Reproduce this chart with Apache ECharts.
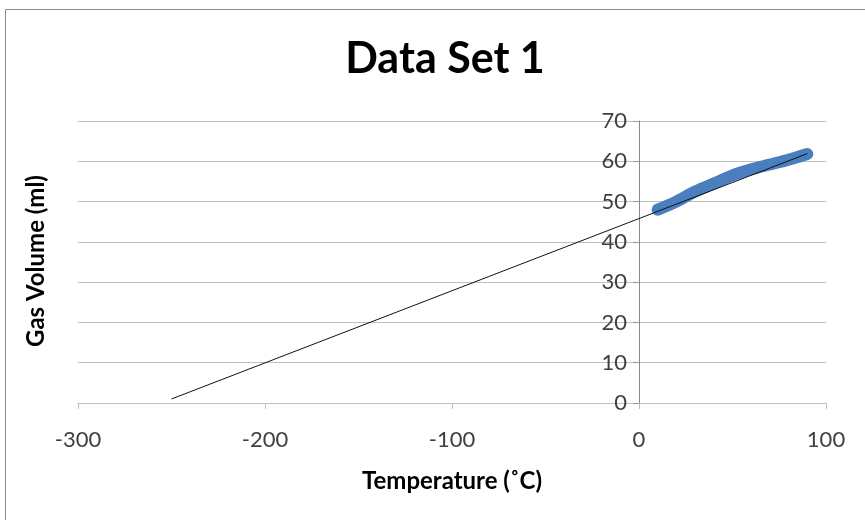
<!DOCTYPE html>
<html>
<head>
<meta charset="utf-8">
<script src="https://cdn.jsdelivr.net/npm/echarts@6/dist/echarts.min.js"></script>
<style>html,body{margin:0;padding:0;background:#fff}#c{width:865px;height:520px}</style>
</head>
<body>
<div id="c"></div>
<script>
// Data
const temperature = [10, 20, 30, 40, 50, 60, 70, 80, 90];
const gasVolume = [48, 50, 52.5, 54.5, 56.5, 58, 59.2, 60.4, 61.8];
const trendX = [-250, 90];
const trendY = [1.0, 61.9];
const xTicks = [-300, -200, -100, 0, 100];
const yTicks = [0, 10, 20, 30, 40, 50, 60, 70];

const font = 'Lato, "Open Sans", sans-serif';
const gridLeft = 78;
const chart = echarts.init(document.getElementById('c'), null, {renderer: 'canvas'});
const border = {type: 'rect', shape: {x: 5.5, y: 9.5, width: 900, height: 600},
  style: {fill: null, stroke: '#8a8a8a', lineWidth: 1}, silent: true};
const yName = {type: 'text', x: 36, y: 261, rotation: Math.PI / 2,
  style: {text: 'Gas Volume (ml)', font: 'bold 24px ' + font, fill: '#000', align: 'center', verticalAlign: 'middle'}};

function yAxisOpt(offset) {
  return {
    type: 'value', min: yTicks[0], max: yTicks[yTicks.length - 1], interval: 10,
    offset: offset,
    axisLine: {onZero: false, lineStyle: {color: '#888', width: 1}},
    axisTick: {show: true, length: 6, lineStyle: {color: '#999'}},
    axisLabel: {fontFamily: font, fontSize: 22, color: '#404040', margin: 12},
    splitLine: {show: true, lineStyle: {color: '#bfbfbf', width: 1}}
  };
}

chart.setOption({
  animation: false,
  backgroundColor: '#fff',
  title: {
    text: 'Data Set 1', left: 440, textAlign: 'center', top: 33,
    textStyle: {fontFamily: font, fontWeight: 'bold', fontSize: 43, color: '#000'}
  },
  graphic: [border, yName],
  grid: {left: gridLeft, right: 39, top: 121, bottom: 117},
  xAxis: {
    type: 'value', min: xTicks[0], max: xTicks[xTicks.length - 1], interval: 100,
    name: 'Temperature (˚C)', nameLocation: 'middle', nameGap: 66,
    nameTextStyle: {fontFamily: font, fontWeight: 'bold', fontSize: 24, color: '#000'},
    axisLine: {onZero: false, lineStyle: {color: '#bfbfbf', width: 1}},
    axisTick: {show: true, length: 6, lineStyle: {color: '#bfbfbf'}},
    axisLabel: {fontFamily: font, fontSize: 22, color: '#404040', margin: 26},
    splitLine: {show: false}
  },
  yAxis: yAxisOpt(0),
  series: [
    {
      type: 'line', data: temperature.map((t, i) => [t, gasVolume[i]]),
      smooth: 0.3, showSymbol: false, symbol: 'none',
      lineStyle: {color: '#4a7ebf', width: 12, cap: 'round', join: 'round'}, z: 2
    },
    {
      type: 'line', data: trendX.map((t, i) => [t, trendY[i]]),
      showSymbol: false, symbol: 'none',
      lineStyle: {color: '#111', width: 1}, z: 3
    }
  ]
});
// place the y axis at x = 0, as in the reference
const zeroPx = chart.convertToPixel({xAxisIndex: 0}, 0);
chart.setOption({yAxis: yAxisOpt(-(zeroPx - gridLeft))});
</script>
</body>
</html>
